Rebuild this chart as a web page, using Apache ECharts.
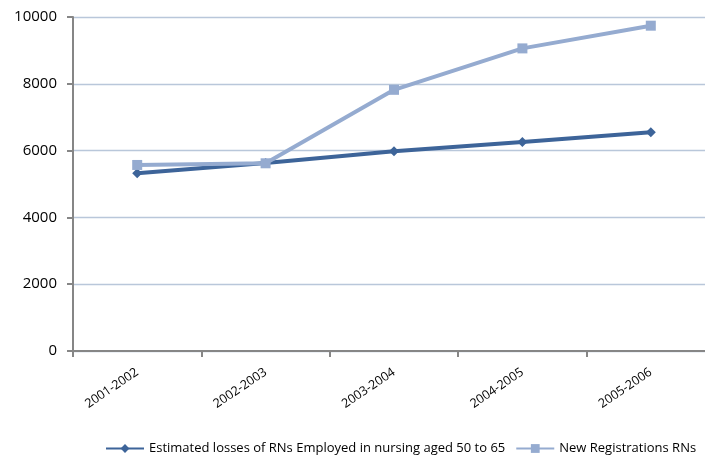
<!DOCTYPE html>
<html><head><meta charset="utf-8">
<script src="https://cdn.jsdelivr.net/npm/echarts@6/dist/echarts.min.js"></script>
<style>html,body{margin:0;padding:0;background:#fff}#c{width:705px;height:456px}</style>
</head><body><div id="c"></div>
<script>
const categories = ['2001-2002','2002-2003','2003-2004','2004-2005','2005-2006'];
const lossesName = 'Estimated losses of RNs Employed in nursing aged 50 to 65';
const lossesValues = [5320, 5630, 5980, 6260, 6550];
const regName = 'New Registrations RNs';
const regValues = [5570, 5620, 7820, 9060, 9740];
const yTicks = [0, 2000, 4000, 6000, 8000, 10000];

const chart = echarts.init(document.getElementById('c'), null, {renderer:'canvas'});
const font = '"Open Sans", "Liberation Sans", sans-serif';
chart.setOption({
  animation:false,
  backgroundColor:'#fff',
  grid:{left:73, width:642, top:17, bottom:105, outerBoundsMode:'none', containLabel:false},
  legend:{
    bottom:1, left:105, padding:0, width:600, itemWidth:38, itemHeight:11, itemGap:10,
    textStyle:{fontFamily:font, fontSize:13, color:'#000'},
    data:[lossesName, regName]
  },
  xAxis:{
    type:'category', data:categories, boundaryGap:true,
    axisLine:{lineStyle:{color:'#868686', width:2}},
    axisTick:{show:true, length:6, lineStyle:{color:'#868686', width:2}},
    axisLabel:{rotate:34, margin:20, fontFamily:font, fontSize:12.5, color:'#000'},
    splitLine:{show:false}
  },
  yAxis:{
    type:'value', min:yTicks[0], max:yTicks[yTicks.length-1], interval:2000,
    axisLine:{show:true, lineStyle:{color:'#868686', width:2}},
    axisTick:{show:true, length:6, lineStyle:{color:'#868686', width:2}},
    axisLabel:{margin:16, fontFamily:font, fontSize:15, color:'#000', formatter:v=>String(v)},
    splitLine:{lineStyle:{color:'#B9C7DA', width:1.3}}
  },
  series:[
    {name:lossesName, type:'line', data:lossesValues, symbol:'diamond', symbolSize:10,
     itemStyle:{color:'#3D6499'}, lineStyle:{width:4, color:'#3D6499'}},
    {name:regName, type:'line', data:regValues, symbol:'rect', symbolSize:10,
     itemStyle:{color:'#95ABD0'}, lineStyle:{width:4, color:'#95ABD0'}}
  ]
});
</script></body></html>
